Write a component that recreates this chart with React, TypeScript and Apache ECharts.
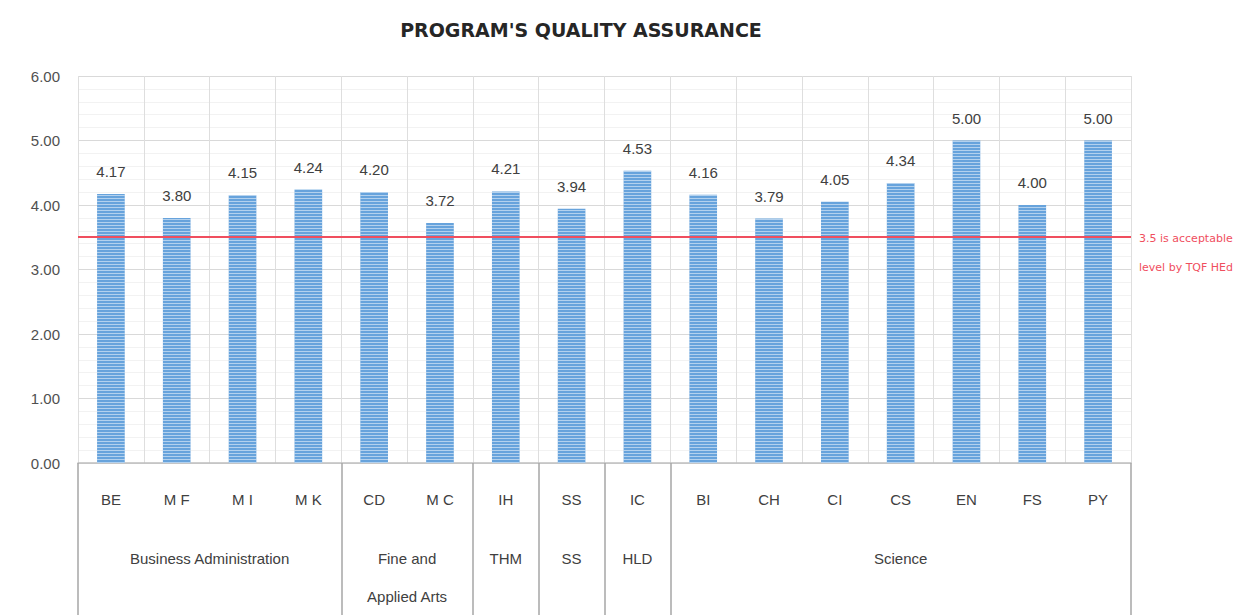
import React, { useEffect, useRef } from "react";
import * as echarts from "echarts";

const programs = ["BE", "M F", "M I", "M K", "CD", "M C", "IH", "SS", "IC", "BI", "CH", "CI", "CS", "EN", "FS", "PY"];
const scores = [4.17, 3.8, 4.15, 4.24, 4.2, 3.72, 4.21, 3.94, 4.53, 4.16, 3.79, 4.05, 4.34, 5.0, 4.0, 5.0];
// groups: label, number of programs
const groupNames = ["Business Administration", "Fine and\nApplied Arts", "THM", "SS", "HLD", "Science"];
const groupSizes = [4, 2, 1, 1, 1, 7];
const threshold = 3.5;
const thresholdLine1 = "3.5 is acceptable";
const thresholdLine2 = "level by TQF HEd";
const yTicks = [0, 1, 2, 3, 4, 5, 6];

export default function App() {
  const ref = useRef<HTMLDivElement>(null);
  useEffect(() => {
    if (!ref.current) return;
    const chart = echarts.init(ref.current, null, { renderer: "svg" });

    const n = programs.length;
    const halfSlots: string[] = new Array(2 * n + 1).fill("");
    const boundaryIdx = new Set<number>([0]);
    let start = 0;
    groupNames.forEach((g, i) => {
      const size = groupSizes[i];
      halfSlots[start * 2 + size] = g;
      start += size;
      boundaryIdx.add(start * 2);
    });
    const labelIdx = new Set<number>();
    halfSlots.forEach((s, i) => { if (s) labelIdx.add(i); });

    const font = "'Liberation Sans', Arial, sans-serif";
    const redFont = "'DejaVu Sans', sans-serif";
    chart.setOption({
      animation: false,
      backgroundColor: "#ffffff",
      title: {
        text: "PROGRAM'S QUALITY ASSURANCE",
        left: 576,
        top: 15,
        textAlign: "center",
        textStyle: { fontFamily: "'DejaVu Sans', sans-serif", fontSize: 19, fontWeight: "bold", color: "#262626" },
      },
      grid: { left: 78, right: 115, top: 76, bottom: 150, containLabel: false },
      xAxis: [
        {
          type: "category",
          data: programs,
          position: "bottom",
          axisLine: { show: true, lineStyle: { color: "#bfbfbf", width: 1.5 } },
          axisTick: { show: false },
          axisLabel: { fontFamily: font, fontSize: 15, color: "#404040", margin: 29 },
          splitLine: { show: true, lineStyle: { color: "#dedede" } },
        },
        {
          type: "category",
          data: halfSlots,
          position: "bottom",
          boundaryGap: false,
          axisLine: { show: false },
          axisTick: {
            show: true,
            length: 152,
            interval: (idx: number) => boundaryIdx.has(idx),
            lineStyle: { color: "#a6a6a6", width: 1.5 },
          },
          axisLabel: {
            interval: (idx: number) => labelIdx.has(idx),
            fontFamily: font,
            fontSize: 15,
            color: "#404040",
            margin: 76,
            lineHeight: 38,
          },
          splitLine: { show: false },
        },
      ],
      yAxis: {
        type: "value",
        min: yTicks[0],
        max: yTicks[yTicks.length - 1],
        interval: 1,
        axisLine: { show: false },
        axisTick: { show: false },
        axisLabel: {
          fontFamily: font,
          fontSize: 15,
          color: "#505050",
          margin: 18,
          formatter: (v: number) => v.toFixed(2),
        },
        splitLine: { show: true, lineStyle: { color: "#d9d9d9" } },
        minorTick: { show: false, splitNumber: 5 },
        minorSplitLine: { show: true, lineStyle: { color: "#f2f2f2" } },
      },
      series: [
        {
          type: "bar",
          data: scores,
          xAxisIndex: 0,
          barWidth: "42%",
          itemStyle: {
            color: "#67a3dc",
            decal: {
              symbol: "rect",
              symbolSize: 1,
              dashArrayX: [[1, 0]],
              dashArrayY: [1, 2],
              rotation: 0,
              color: "rgba(255,255,255,0.5)",
            },
          },
          label: {
            show: true,
            position: "top",
            distance: 15,
            fontFamily: font,
            fontSize: 15,
            color: "#404040",
            formatter: (p: any) => Number(p.value).toFixed(2),
          },
          markLine: {
            silent: true,
            symbol: ["none", "none"],
            lineStyle: { color: "#f04e5e", width: 2, type: "solid" },
            label: {
              show: true,
              position: "end",
              distance: 8,
              verticalAlign: "top",
              formatter: `{a|${thresholdLine1}}\n{b|${thresholdLine2}}`,
              rich: {
                a: { fontFamily: redFont, fontSize: 11, color: "#f04e5e", lineHeight: 2 },
                b: { fontFamily: redFont, fontSize: 11, color: "#f04e5e", lineHeight: 56 },
              },
            },
            data: [{ yAxis: threshold }],
          },
        },
      ],
    });
    return () => chart.dispose();
  }, []);

  return (
    <div
      ref={ref}
      style={{ position: "fixed", left: 0, top: 0, width: 1246, height: 615 }}
    />
  );
}
